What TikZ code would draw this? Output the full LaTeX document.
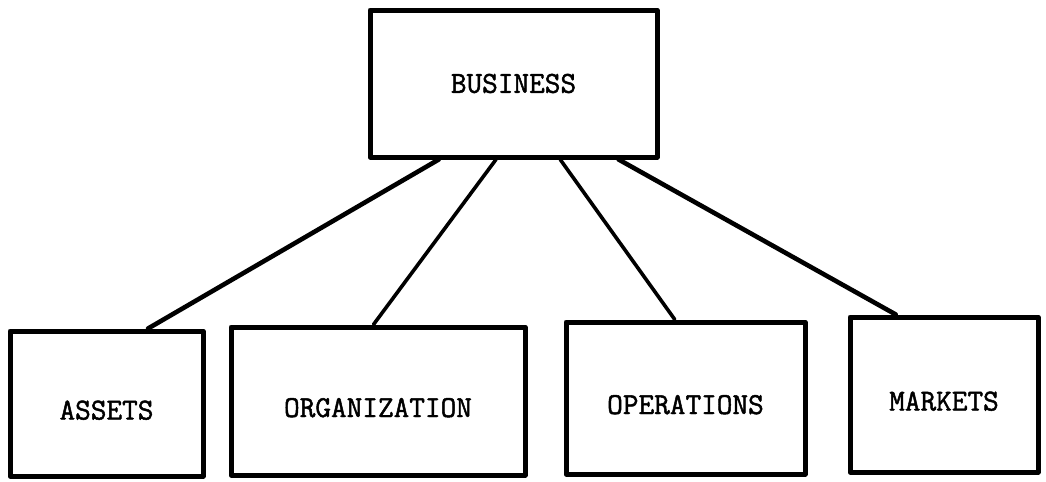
\documentclass[tikz,border=0pt]{standalone}
\usepackage{fontspec}
\newfontfamily\boxfont{Latin Modern Mono}[FakeBold=1.6]
\usetikzlibrary{calc}
\tikzset{
  box/.style={draw, line width=2.5pt, line join=round, inner sep=0pt,
    font=\boxfont\fontsize{15.2}{18}\selectfont},
  lowtext/.style={text height=16pt, text depth=0pt},
  widelink/.style={line width=2.3pt, line cap=round},
  narrowlink/.style={line width=1.8pt, line cap=round}
}

\begin{document}
\begin{tikzpicture}[x=0.5pt,y=-0.5pt]
\useasboundingbox (0,0) rectangle (1046,482);

%%%%%%%%%%%%%%%%%%%%%%%%%%%%%%%%%%%%%%%%%%%%%%%%%%%%%%%%%%%%%% top
\node[box, minimum width=143.5pt, minimum height=73.5pt] (business) at (513.5,83.5) {BUSINESS};

%%%%%%%%%%%%%%%%%%%%%%%%%%%%%%%%%%%%%%%%%%%%%%%%%%%%%%%%%%%%%% lower row
\node[box, lowtext, minimum width=96.5pt, minimum height=72.5pt] (assets) at (106.5,403.5) {ASSETS};
\node[box, lowtext, minimum width=147pt, minimum height=74pt] (organization) at (378,401) {ORGANIZATION};
\node[box, lowtext, minimum width=119.5pt, minimum height=76pt] (operations) at (685.5,398) {OPERATIONS};
\node[box, lowtext, minimum width=94pt, minimum height=77.5pt] (markets) at (944,394.5) {MARKETS};

%%%%%%%%%%%%%%%%%%%%%%%%%%%%%%%%%%%%%%%%%%%%%%%%%%%%%%%%%%%%%% links
\draw[widelink] ($(business.south west)!0.244!(business.south east)$) -- ($(assets.north west)!0.71!(assets.north east)$);
\draw[narrowlink] ($(business.south west)!0.44!(business.south east)$) -- ($(organization.north west)!0.485!(organization.north east)$);
\draw[narrowlink] ($(business.south west)!0.66!(business.south east)$) -- ($(operations.north west)!0.456!(operations.north east)$);
\draw[widelink] ($(business.south west)!0.86!(business.south east)$) -- ($(markets.north west)!0.25!(markets.north east)$);

\end{tikzpicture}
\end{document}
